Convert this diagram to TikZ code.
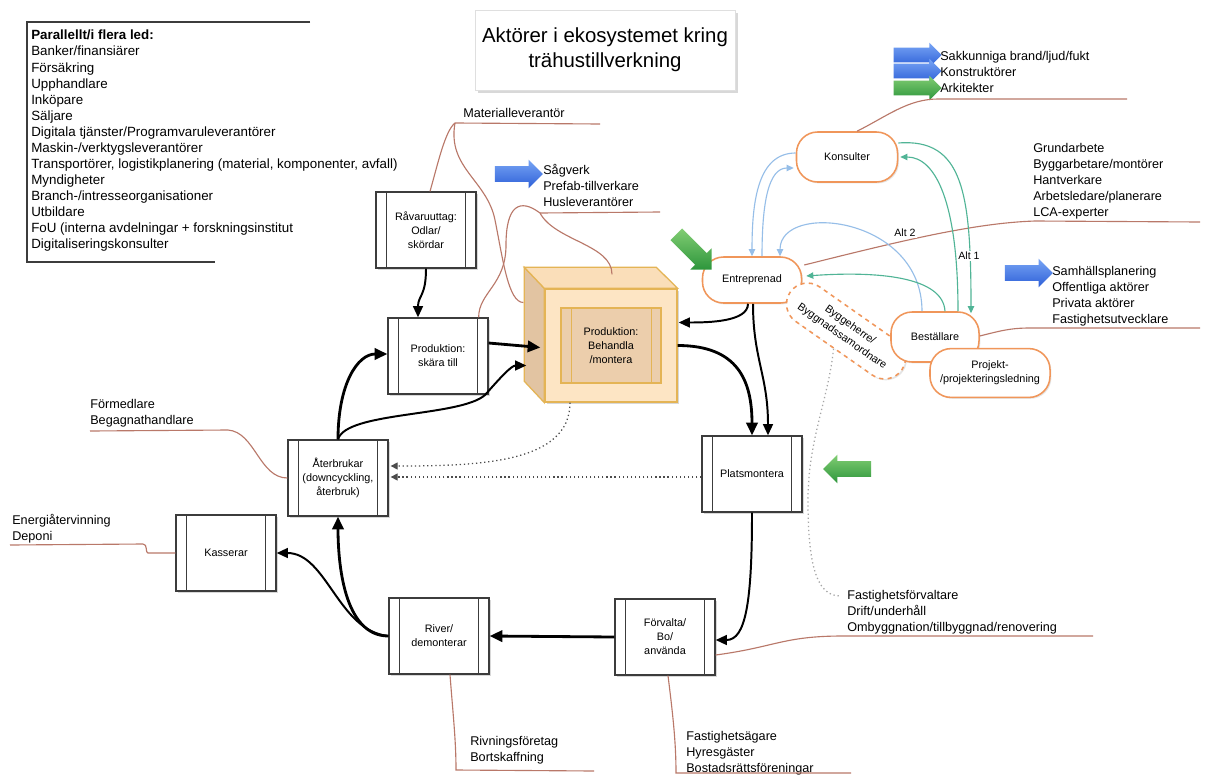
\documentclass[tikz,border=0pt]{standalone}
\usepackage{fontspec}
\setmainfont{Liberation Sans}
\usepackage{tikz}
\usepackage{xcolor}
\usetikzlibrary{shapes.arrows, shapes.misc, arrows.meta, calc, shadows}
\definecolor{cOrange}{RGB}{240,150,90}
\definecolor{cRed}{RGB}{185,120,105}
\definecolor{cSky}{RGB}{150,190,232}
\definecolor{cTeal}{RGB}{80,180,150}
\definecolor{cBlueT}{RGB}{120,165,245}
\definecolor{cBlueB}{RGB}{45,95,215}
\definecolor{cGreenT}{RGB}{130,205,115}
\definecolor{cGreenB}{RGB}{45,150,60}
\definecolor{cFront}{RGB}{253,229,196}
\definecolor{cTop}{RGB}{250,222,185}
\definecolor{cSide}{RGB}{226,196,162}
\definecolor{cInner}{RGB}{236,206,172}
\definecolor{cGold}{RGB}{228,180,85}
\definecolor{cBox}{RGB}{60,60,60}
\newcommand{\boxfont}{\fontsize{7.7}{10}\selectfont}
\newcommand{\parfont}{\fontsize{9}{11.4}\selectfont}
\newcommand{\listfont}{\fontsize{9.5}{11.4}\selectfont}
\newcommand{\ttlfont}{\fontsize{14.5}{17.7}\selectfont}
\newcommand{\altfont}{\fontsize{7.5}{9}\selectfont}
\tikzset{
	proc/.style    ={rectangle, draw=cBox, line width=0.9pt, fill=white, minimum width=2.5cm, minimum height=1.9cm, align=center, font=\boxfont, drop shadow={shadow xshift=1.5pt, shadow yshift=-1.5pt, opacity=0.3}},
	pill/.style    ={rectangle, rounded corners=15pt, draw=cOrange, line width=1.1pt, fill=white, minimum height=1.25cm, align=center, font=\boxfont, drop shadow={shadow xshift=1pt, shadow yshift=-1pt, opacity=0.2}},
	bigarrow/.style={single arrow, draw=none, minimum height=1.2cm, minimum width=0pt, inner xsep=0pt, inner ysep=0.19cm, single arrow head extend=0.16cm, single arrow head indent=0pt},
	bluearr/.style ={bigarrow, top color=cBlueT, bottom color=cBlueB},
	greenarr/.style={bigarrow, top color=cGreenT, bottom color=cGreenB},
	flow/.style    ={-{Triangle[length=9pt,width=8pt]}, line width=2pt},
	flowm/.style   ={-{Triangle[length=8pt,width=7pt]}, line width=1.4pt},
	link/.style    ={-{Triangle[length=5pt,width=4.5pt]}, line width=0.8pt},
	dotarr/.style  ={-{Triangle[length=5pt,width=5pt]}, dotted, line width=0.9pt, draw=gray!60!black},
	rline/.style   ={draw=cRed, line width=0.8pt},
}
\begin{document}
\begin{tikzpicture}[x=0.025cm, y=-0.025cm,
	lbl/.style={anchor=north west, align=left, inner sep=0pt, font=\parfont}]
	\fill[white] (0,0) rectangle (1208,776);
	\useasboundingbox (0,0) rectangle (1208,776);
	% actors in several links
	\draw[cBox, line width=1.2pt] (310,22) -- (27,22) -- (27,262) -- (215,262);
	\node[lbl, font=\listfont] (par) at (31,30) {\textbf{Parallellt/i flera led:}\\Banker/finansiärer\\Försäkring\\Upphandlare\\Inköpare\\Säljare\\Digitala tjänster/Programvaruleverantörer\\Maskin-/verktygsleverantörer\\Transportörer, logistikplanering (material, komponenter, avfall)\\Myndigheter\\Branch-/intresseorganisationer\\Utbildare\\FoU (interna avdelningar + forskningsinstitut\\Digitaliseringskonsulter};
	\node[draw=gray!25, fill=white, drop shadow={shadow xshift=2pt, shadow yshift=-2pt, opacity=0.3}, minimum width=6.5cm, minimum height=2cm, align=center, font=\ttlfont] (title) at (605,50) {Aktörer i ekosystemet kring\\trähustillverkning};

	% value chain
	\node[proc] (raw) at (426,230) {Råvaruuttag:\\Odlar/\\skördar};
	\node[proc] (cut) at (438,356) {Produktion:\\skära till};
	\node[proc] (site) at (752,474) {Platsmontera};
	\node[proc] (use) at (665,637) {Förvalta/\\Bo/\\använda};
	\node[proc] (demol) at (439,636) {River/\\demonterar};
	\node[proc] (discard) at (226,553) {Kasserar};
	\node[proc] (reuse) at (338,478) {Återbrukar\\(downcyckling,\\återbruk)};
	\foreach \n in {raw,cut,site,use,demol,discard,reuse} {
		\draw[cBox, line width=0.9pt] ($(\n.north west)+(11,0)$) -- ($(\n.south west)+(11,0)$);
		\draw[cBox, line width=0.9pt] ($(\n.north east)+(-11,0)$) -- ($(\n.south east)+(-11,0)$);
	}
	\node[draw=cGold, fill=cFront, line width=0.9pt, minimum width=3.3cm, minimum height=2.825cm, drop shadow={shadow xshift=1.5pt, shadow yshift=-1.5pt, opacity=0.3}] (cube) at (611,345.5) {};
	\filldraw[draw=cGold, fill=cSide, line width=0.9pt] (cube.north west) -- ++(-20,-21) -- ++(0,114) -- (cube.south west) -- cycle;
	\filldraw[draw=cGold, fill=cTop, line width=0.9pt] (cube.north west) -- ++(-20,-21) -- ++(132,0) -- (cube.north east) -- cycle;
	\node[draw=cGold, fill=cInner, line width=0.9pt, minimum width=2.5cm, minimum height=1.875cm, align=center, font=\boxfont] (assemble) at (cube.center) {Produktion:\\Behandla\\/montera};
	\draw[cGold, line width=0.9pt] ($(assemble.north west)+(11,0)$) -- ($(assemble.south west)+(11,0)$);
	\draw[cGold, line width=0.9pt] ($(assemble.north east)+(-10,0)$) -- ($(assemble.south east)+(-10,0)$);

	% actors around the building site
	\node[pill, minimum width=2.525cm] (consult) at (847,157) {Konsulter};
	\node[pill, minimum width=2.475cm, minimum height=1.15cm] (contract) at (752,280) {Entreprenad};
	\node[pill, draw=cOrange, dashed, minimum width=3.4cm, minimum height=1.05cm, rotate=-35, drop shadow={opacity=0}] (builder) at (846,331) {Byggeherre/\\Byggnadssamordnare};
	\node[pill, minimum width=2.2cm] (client) at (935,337) {Beställare};
	\node[pill, minimum width=3cm, minimum height=1.22cm] (projlead) at (990,373) {Projekt-\\/projekteringsledning};

	% block arrows
	\node[bluearr] (arrSaw) at (515,174) {};
	\node[bluearr] (arrSamh) at (1025,273) {};
	\node[bluearr, inner ysep=0.175cm, single arrow head extend=0.125cm] (arrSak) at (914,55) {};
	\node[bluearr, inner ysep=0.175cm, single arrow head extend=0.125cm] (arrKon) at (914,71) {};
	\node[greenarr, inner ysep=0.175cm, single arrow head extend=0.125cm] (arrArk) at (914,88) {};
	\node[greenarr, minimum height=1.25cm, inner ysep=0.2cm, single arrow head extend=0.17cm, rotate=-45] (arrEnt) at (691,249) {};
	\node[greenarr, shape border rotate=180] (arrSite) at (851,469) {};

	% texts
	\node[lbl] (matText) at (463,108) {Materialleverantör};
	\node[lbl] (sawText) at (543,164) {Sågverk\\Prefab-tillverkare\\Husleverantörer};
	\node[lbl] (konsText) at (940,51) {Sakkunniga brand/ljud/fukt\\Konstruktörer\\Arkitekter};
	\node[lbl] (entText) at (1033,143) {Grundarbete\\Byggarbetare/montörer\\Hantverkare\\Arbetsledare/planerare\\LCA-experter};
	\node[lbl] (bestText) at (1052,266) {Samhällsplanering\\Offentliga aktörer\\Privata aktörer\\Fastighetsutvecklare};
	\node[lbl] (formText) at (90,399) {Förmedlare\\Begagnathandlare};
	\node[lbl] (enText) at (12,514) {Energiåtervinning\\Deponi};
	\node[lbl] (rivText) at (470,736) {Rivningsföretag\\Bortskaffning};
	\node[lbl] (agText) at (686,731) {Fastighetsägare\\Hyresgäster\\Bostadsrättsföreningar};
	\node[lbl] (forvText) at (847,590) {Fastighetsförvaltare\\Drift/underhåll\\Ombyggnation/tillbyggnad/renovering};

	% underlines
	\coordinate (matL) at (455,123);
	\coordinate (husL) at (540,213);
	\coordinate (konsL) at (938,99);
	\coordinate (entL) at (1035,221);
	\coordinate (bestL) at (1030,328);
	\coordinate (formL) at (90,431);
	\coordinate (enL) at (10,545);
	\coordinate (rivL) at (456,770);
	\coordinate (agL) at (676,773);
	\coordinate (forvL) at (843,636);
	\coordinate (forvDot) at (840,596);
	\draw[rline] (matL) -- ++(145,1);
	\draw[rline] (matL) .. controls +(-10,8) and +(8,-28) .. ($(raw.north)+(4,0)$);
	\draw[rline] (matL) .. controls +(-8,45) and +(-8,-40) .. (495,220) .. controls +(8,40) and +(-15,0) .. ($(cube.west)+(-21,-43)$);
	\draw[rline] (husL) -- ++(120,-1);
	\draw[rline] (husL) .. controls +(-20,-15) and +(0,-40) .. (506,245) .. controls +(0,40) and +(0,-25) .. ($(cut.north east)+(-10,0)$);
	\draw[rline] (husL) .. controls +(15,28) and +(0,-30) .. ($(cube.north)+(1,-14)$);
	\draw[rline] ($(consult.north)+(10,0)$) .. controls +(30,-15) and +(-30,0) .. (konsL) -- ++(189,0);
	\draw[rline] ($(contract.east)+(2,-15)$) .. controls +(100,-25) and +(-60,2) .. (entL) -- ++(165,1);
	\draw[rline] ($(client.east)+(0,-1)$) .. controls +(20,-5) and +(-20,0) .. (bestL) -- ++(170,0);
	\draw[rline] (formL) -- ++(138,-1) .. controls +(27,2) and +(-28,0) .. (reuse.west);
	\draw[rline] (enL) -- ++(133,-1) .. controls +(5,0) and +(-3,0) .. ++(5,9) -- (discard.west);
	\draw[rline] ($(demol.south)+(11,0)$) .. controls +(3,40) and +(0,-30) .. (rivL) -- ++(138,1);
	\draw[rline] ($(use.south)+(3,0)$) .. controls +(5,40) and +(0,-30) .. (agL) -- ++(175,0);
	\draw[rline] ($(use.east)+(0,18)$) .. controls +(60,-8) and +(-60,0) .. (forvL) -- ++(250,0);
	\draw[dotted, line width=0.9pt, gray!70] (builder.south) .. controls +(-5,50) and +(0,-60) .. (808,500) .. controls +(0,60) and +(-25,0) .. (forvDot);

	% material flow
	\draw[flowm] (raw.south) .. controls +(0,28) and +(0,-22) .. ($(cut.north)+(-20,0)$);
	\draw[flow] ($(cut.east)+(0,-13)$) -- ($(cube.west)+(-4,2)$);
	\draw[flow] (reuse.north) .. controls +(0,-55) and +(-30,0) .. ($(cut.west)+(0,-2)$);
	\draw[flowm] (reuse.north) .. controls +(8,-28) and +(-25,22) .. (485,395) .. controls +(15,-17) and +(-15,0) .. ($(cube.west)+(-18,20)$);
	\draw[flowm] ($(contract.south)+(-4,0)$) .. controls +(0,18) and +(30,0) .. ($(cube.east)+(1,-23)$);
	\draw[flowm] ($(contract.south)+(1,0)$) .. controls +(0,55) and +(0,-60) .. ($(site.north)+(16,0)$);
	\draw[flow] (cube.east) .. controls +(60,0) and +(0,-55) .. (site.north);
	\draw[flowm] (site.south) .. controls +(0,90) and +(30,0) .. ($(use.east)+(0,3)$);
	\draw[flow] (use.west) -- (demol.east);
	\draw[flow] (demol.west) .. controls +(-45,0) and +(0,45) .. (reuse.south);
	\draw[flowm] (demol.west) .. controls +(-50,-5) and +(50,0) .. (discard.east);
	\draw[dotarr] ($(cube.south)+(-41,0)$) .. controls +(0,60) and +(90,0) .. ($(reuse.east)+(2,-12)$);
	\draw[dotarr] ($(site.west)+(0,3)$) -- ($(reuse.east)+(2,-1)$);

	% contracts
	\draw[link, cSky] ($(consult.west)+(0,-4)$) .. controls +(-38,0) and +(0,-55) .. (contract.north);
	\draw[link, cSky] ($(contract.north)+(10,0)$) .. controls +(0,-55) and +(-25,0) .. ($(consult.west)+(-2,11)$);
	\draw[link, cSky] ($(client.north)+(-13,0)$) .. controls +(0,-95) and +(0,-55) .. ($(contract.north)+(28,0)$);
	\draw[link, cTeal] ($(consult.east)+(0,-14)$) .. controls +(65,-5) and +(0,-120) .. ($(client.north)+(36,2)$);
	\draw[link, cTeal] ($(client.north)+(23,0)$) .. controls +(0,-110) and +(35,0) .. ($(consult.east)+(2,0)$);
	\draw[link, cTeal] ($(client.north)+(10,0)$) .. controls +(-2,-35) and +(70,-5) .. ($(contract.east)+(4,-4)$);
	\node[font=\altfont, fill=white, inner sep=1pt] (alt2) at (905,233) {Alt 2};
	\node[font=\altfont, fill=white, inner sep=1pt] (alt1) at (969,256) {Alt 1};
\end{tikzpicture}
\end{document}
